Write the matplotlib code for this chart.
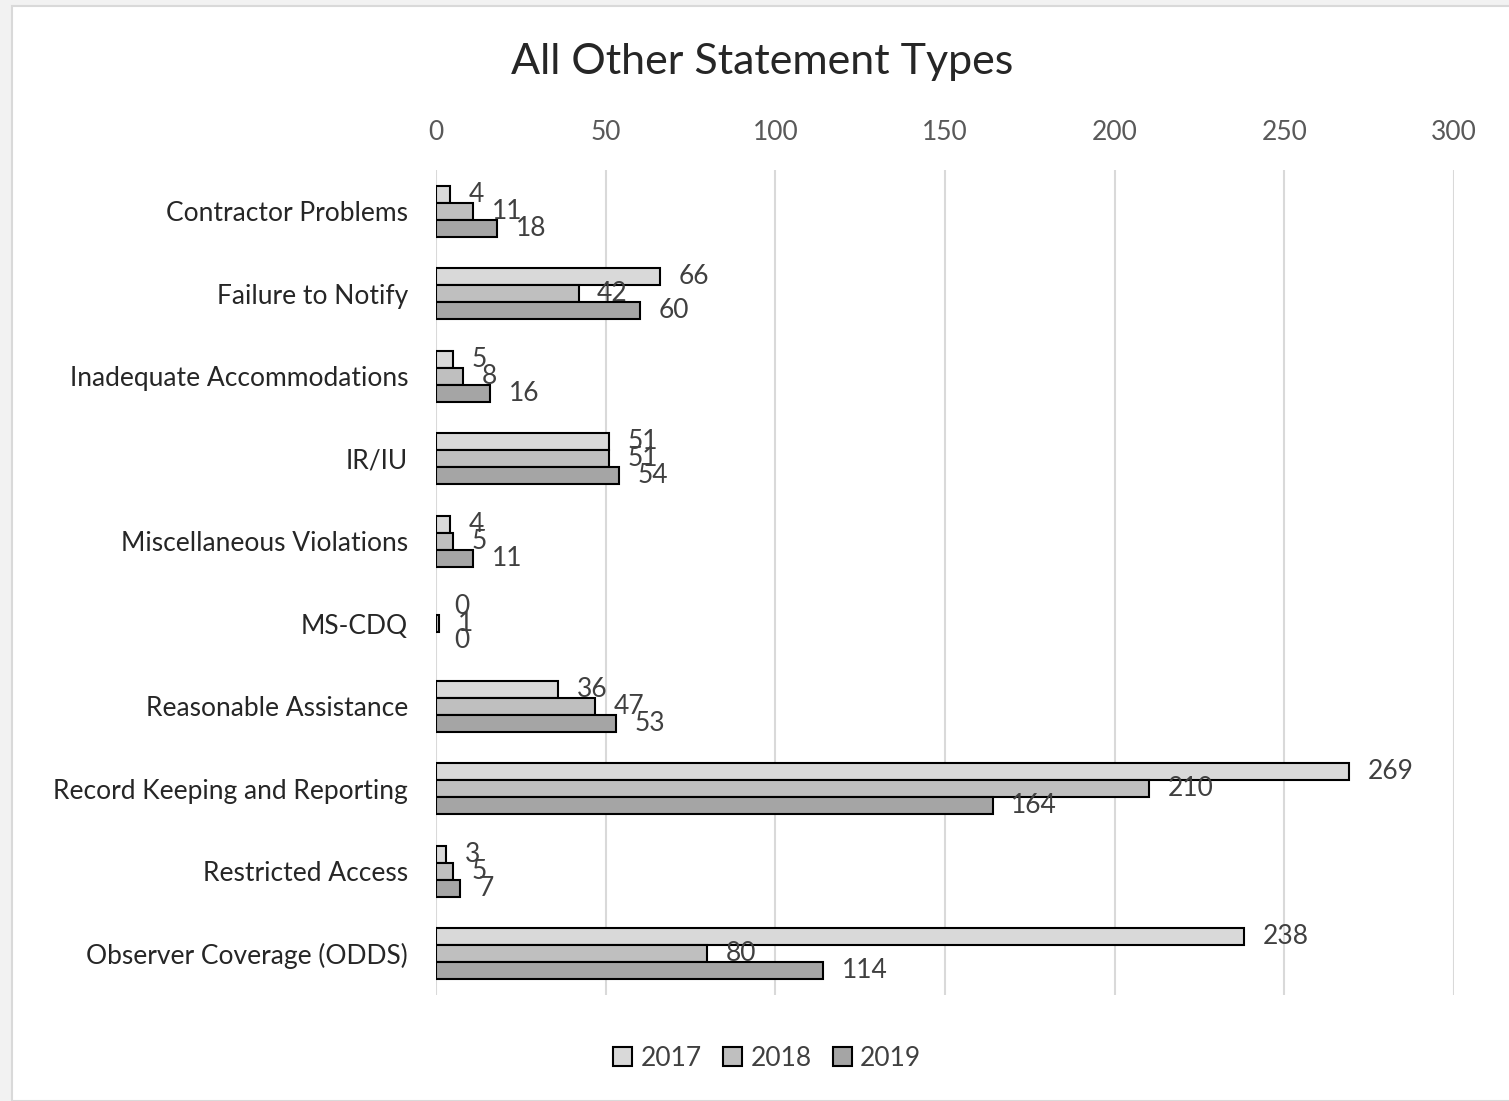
import matplotlib.pyplot as plt
import matplotlib.patches as patches
import numpy as np

categories = [
    "Contractor Problems",
    "Failure to Notify",
    "Inadequate Accommodations",
    "IR/IU",
    "Miscellaneous Violations",
    "MS-CDQ",
    "Reasonable Assistance",
    "Record Keeping and Reporting",
    "Restricted Access",
    "Observer Coverage (ODDS)",
]
years = ["2017", "2018", "2019"]
vals_2017 = [4, 66, 5, 51, 4, 0, 36, 269, 3, 238]
vals_2018 = [11, 42, 8, 51, 5, 1, 47, 210, 5, 80]
vals_2019 = [18, 60, 16, 54, 11, 0, 53, 164, 7, 114]

colors = ["#d9d9d9", "#bfbfbf", "#a5a5a5"]

plt.rcParams["font.family"] = ["Lato", "DejaVu Sans"]

fig = plt.figure(figsize=(15.09, 11.01), dpi=100, facecolor="#f2f2f2")
# white chart panel behind everything
fig.patches.append(patches.Rectangle((12 / 1509, 0), 1, 1 - 6 / 1101,
                                     transform=fig.transFigure, facecolor="white",
                                     edgecolor="#d9d9d9", linewidth=1.5, zorder=-10))

ax = fig.add_axes([436 / 1509, 1 - 995 / 1101, 1018 / 1509, 825 / 1101])
ax.set_facecolor("none")
ax.set_zorder(2)

y = np.arange(len(categories))
h = 0.207
offsets = [-h, 0, h]
for vals, off, col in zip([vals_2017, vals_2018, vals_2019], offsets, colors):
    edges = ["black" if v > 0 else "none" for v in vals]
    ax.barh(y + off, vals, height=h, color=col, edgecolor=edges, linewidth=1.5,
            zorder=3)
    for yi, v in zip(y, vals):
        ax.text(v + 5.5, yi + off, str(v), va="center", ha="left",
                fontsize=19, color="#404040", zorder=4)

ax.set_xlim(0, 300)
ax.set_ylim(len(categories) - 0.5, -0.5)
ax.set_xticks(np.arange(0, 301, 50))
ax.xaxis.tick_top()
ax.tick_params(axis="x", length=0, pad=18, labelsize=19, labelcolor="#595959")
ax.set_yticks(y)
ax.set_yticklabels(categories)
ax.tick_params(axis="y", length=0, pad=20, labelsize=19, labelcolor="#262626")
ax.grid(axis="x", color="#d9d9d9", linewidth=1.5, zorder=0)
for s in ax.spines.values():
    s.set_visible(False)

fig.text(762 / 1509, 1 - 62 / 1101, "All Other Statement Types", ha="center",
         va="center", fontsize=31, color="#262626")

handles = [patches.Patch(facecolor=c, edgecolor="black", linewidth=1.5) for c in colors]
fig.legend(handles, years, loc="center", bbox_to_anchor=(767 / 1509, 1 - 1058 / 1101),
           ncol=3, frameon=False, fontsize=19, handlelength=0.75, handleheight=0.75,
           handletextpad=0.3, columnspacing=0.8, labelcolor="#404040")

fig.savefig("out.png", dpi=100, facecolor=fig.get_facecolor())
